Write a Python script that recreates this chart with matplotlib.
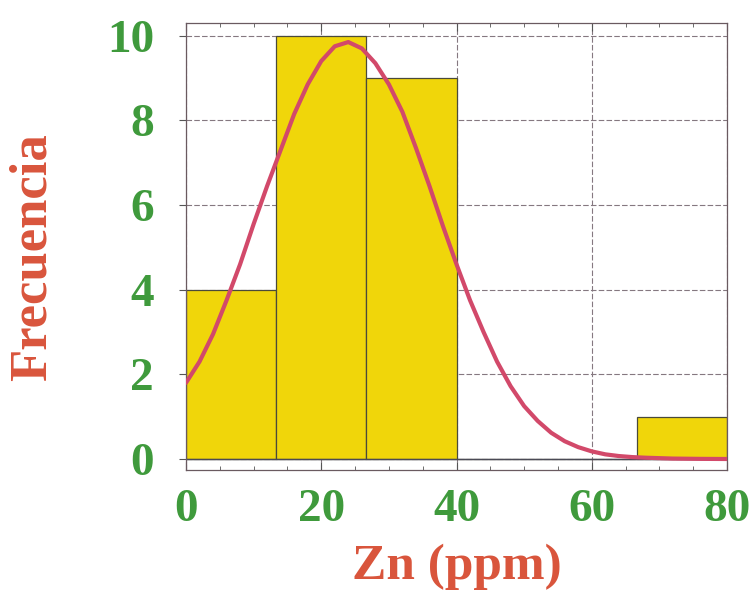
import matplotlib
matplotlib.use("Agg")
import matplotlib.pyplot as plt
from matplotlib.ticker import MultipleLocator

# Data
bin_edges = [0, 13.33, 26.67, 40, 53.33, 66.67, 80]
counts = [4, 10, 9, 0, 0, 1]
curve_x = [0, 2, 4, 6, 8, 10, 12, 14, 16, 18, 20, 22, 24, 26, 28, 30, 32, 34, 36, 38,
           40, 42, 44, 46, 48, 50, 52, 54, 56, 58, 60, 62, 64, 66, 68, 72, 76, 80]
curve_y = [1.8, 2.3, 2.95, 3.75, 4.6, 5.55, 6.45, 7.3, 8.15, 8.85, 9.4, 9.75, 9.85, 9.7,
           9.35, 8.85, 8.2, 7.35, 6.45, 5.5, 4.6, 3.75, 3.0, 2.3, 1.72, 1.25, 0.9, 0.62,
           0.42, 0.28, 0.18, 0.11, 0.07, 0.045, 0.03, 0.01, 0.003, 0.0]
x_ticks = [0, 20, 40, 60, 80]
y_ticks = [0, 2, 4, 6, 8, 10]

GREEN = "#3f9a3c"
RED = "#d9553c"
YELLOW = "#f0d60a"
CURVE = "#d2496a"
GRID = "#857880"
SERIF = ["Liberation Serif", "DejaVu Serif"]

fig = plt.figure(figsize=(7.52, 5.97), dpi=100)
fig.patch.set_facecolor("white")
ax = fig.add_axes([186/752, 1-470/597, (727-186)/752, (470-23)/597])

ax.set_xlim(0, 80)
ax.set_ylim(-0.26, 10.3)

ax.grid(True, which="major", color=GRID, linestyle=(0, (5, 2)), linewidth=0.8, zorder=0)
ax.set_axisbelow(True)

widths = [bin_edges[i+1]-bin_edges[i] for i in range(len(counts))]
ax.bar(bin_edges[:-1], counts, width=widths, align="edge", color=YELLOW,
       edgecolor="#4a4a3a", linewidth=0.9, zorder=2)
ax.axhline(0, color="#4a4a55", linewidth=1.0, zorder=2.5)
ax.plot(curve_x, curve_y, color=CURVE, linewidth=3.0, zorder=3, solid_capstyle="round")

ax.set_xticks(x_ticks)
ax.set_yticks(y_ticks)
ax.xaxis.set_minor_locator(MultipleLocator(5))
ax.tick_params(axis="x", which="major", direction="in", length=6, top=True, pad=14,
               labelsize=34, labelcolor=GREEN, color="#555")
ax.tick_params(axis="x", which="minor", direction="in", length=3, top=True, color="#555")
ax.tick_params(axis="y", which="major", direction="out", length=5, pad=18,
               labelsize=34, labelcolor=GREEN, color="#555")
for lab in ax.get_xticklabels() + ax.get_yticklabels():
    lab.set_fontfamily(SERIF)
    lab.set_fontweight("bold")

for s in ax.spines.values():
    s.set_color("#6a5a60")
    s.set_linewidth(0.9)

fig.text(33/752, 1-257/597, "Frecuencia", rotation=90, ha="center", va="center",
         fontsize=38, fontweight="bold", color=RED, family=SERIF)
fig.text(457/752, 1-567/597, "Zn (ppm)", ha="center", va="center",
         fontsize=37, fontweight="bold", color=RED, family=SERIF)

fig.savefig("out.png", dpi=100, facecolor="white")
